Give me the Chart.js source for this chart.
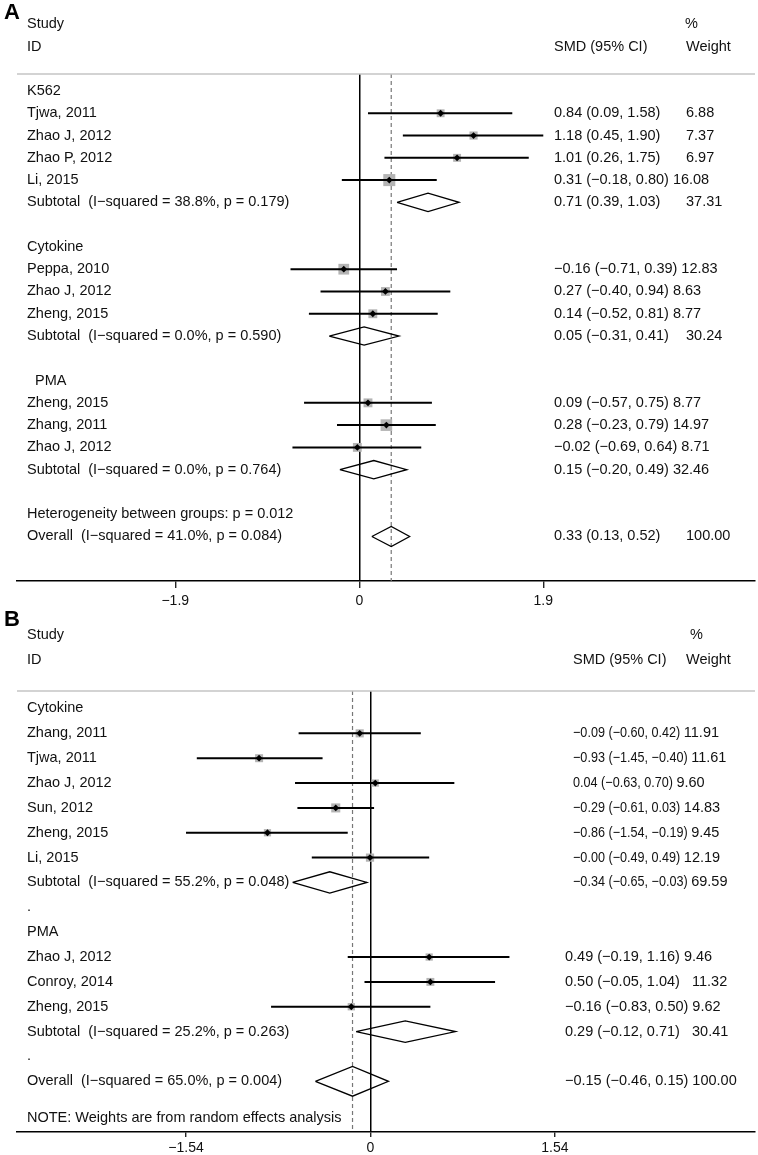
<!DOCTYPE html>
<html>
<head>
<meta charset="utf-8">
<script src="https://cdn.jsdelivr.net/npm/chart.js@4"></script>
<style>
  html, body { margin: 0; padding: 0; background: #fff; }
  canvas { display: block; }
</style>
</head>
<body>
<canvas id="forestA" width="758" height="610"></canvas>
<canvas id="forestB" width="758" height="545"></canvas>
<script>
// ---- panel A ----
const labelsA = [
  "K562", "Tjwa, 2011", "Zhao J, 2012", "Zhao P, 2012", "Li, 2015",
  "Subtotal  (I\u2212squared = 38.8%, p = 0.179)", "",
  "Cytokine", "Peppa, 2010", "Zhao J, 2012", "Zheng, 2015",
  "Subtotal  (I\u2212squared = 0.0%, p = 0.590)", "",
  "  PMA", "Zheng, 2015", "Zhang, 2011", "Zhao J, 2012",
  "Subtotal  (I\u2212squared = 0.0%, p = 0.764)", "",
  "Heterogeneity between groups: p = 0.012",
  "Overall  (I\u2212squared = 41.0%, p = 0.084)"
];
const labelRowsA = labelsA.map((l, i) => i + 1);
const studyRowsA = [2, 3, 4, 5, 9, 10, 11, 15, 16, 17];
const studyEstA = [0.84, 1.18, 1.01, 0.31, -0.16, 0.27, 0.14, 0.09, 0.28, -0.02];
const studyLoA = [0.09, 0.45, 0.26, -0.18, -0.71, -0.40, -0.52, -0.57, -0.23, -0.69];
const studyHiA = [1.58, 1.90, 1.75, 0.80, 0.39, 0.94, 0.81, 0.75, 0.79, 0.64];
const studyWtA = [6.88, 7.37, 6.97, 16.08, 12.83, 8.63, 8.77, 8.77, 14.97, 8.71];
const poolRowsA = [6, 12, 18, 21];
const poolEstA = [0.71, 0.05, 0.15, 0.33];
const poolLoA = [0.39, -0.31, -0.20, 0.13];
const poolHiA = [1.03, 0.41, 0.49, 0.52];
const poolWtA = [37.31, 30.24, 32.46, 100.00];
const ticksA = [-1.9, 0, 1.9];

// ---- panel B ----
const labelsB = [
  "Cytokine", "Zhang, 2011", "Tjwa, 2011", "Zhao J, 2012", "Sun, 2012",
  "Zheng, 2015", "Li, 2015",
  "Subtotal  (I\u2212squared = 55.2%, p = 0.048)", ".",
  "PMA", "Zhao J, 2012", "Conroy, 2014", "Zheng, 2015",
  "Subtotal  (I\u2212squared = 25.2%, p = 0.263)", ".",
  "Overall  (I\u2212squared = 65.0%, p = 0.004)",
  "NOTE: Weights are from random effects analysis"
];
const labelRowsB = [1, 2, 3, 4, 5, 6, 7, 8, 9, 10, 11, 12, 13, 14, 15, 16, 17.48];
const studyRowsB = [2, 3, 4, 5, 6, 7, 11, 12, 13];
const studyEstB = [-0.09, -0.93, 0.04, -0.29, -0.86, -0.004, 0.49, 0.50, -0.16];
const studyLoB = [-0.60, -1.45, -0.63, -0.61, -1.54, -0.49, -0.19, -0.05, -0.83];
const studyHiB = [0.42, -0.40, 0.70, 0.03, -0.19, 0.49, 1.16, 1.04, 0.50];
const studyWtB = [11.91, 11.61, 9.60, 14.83, 9.45, 12.19, 9.46, 11.32, 9.62];
const poolRowsB = [8, 14, 16];
const poolEstB = [-0.34, 0.29, -0.15];
const poolLoB = [-0.65, -0.12, -0.46];
const poolHiB = [-0.03, 0.71, 0.15];
const poolWtB = [69.59, 30.41, 100.00];
const ticksB = [-1.54, 0, 1.54];

const fontFamily = '"Liberation Sans", Arial, Helvetica, sans-serif';
Chart.defaults.font.family = fontFamily;
Chart.defaults.font.size = 14;
Chart.defaults.color = "#111";

function fmt(v) {
  return v.toFixed(2).replace("-", "\u2212");
}

function forest(id, d, s) {
  const gap = { x: NaN, y: NaN };
  const ciPts = [];
  d.sRows.forEach((r, i) => {
    ciPts.push({ x: d.sLo[i], y: r }, { x: d.sHi[i], y: r }, gap);
  });
  const estPts = d.sRows.map((r, i) => ({ x: d.sEst[i], y: r }));
  const boxR = d.sWt.map(w => s.boxK * Math.sqrt(w) / Math.SQRT2);
  const diaPts = [];
  d.pRows.forEach((r, i) => {
    const h = i === d.pRows.length - 1 ? s.overallH : s.subH;
    diaPts.push(
      { x: d.pLo[i], y: r }, { x: d.pEst[i], y: r - h },
      { x: d.pHi[i], y: r }, { x: d.pEst[i], y: r + h },
      { x: d.pLo[i], y: r }, gap
    );
  });
  const overall = d.pEst[d.pEst.length - 1];
  const refPts = [{ x: overall, y: s.ymin }, { x: overall, y: s.ymax }];

  const tablePlugin = {
    id: "table" + id,
    afterDraw(chart) {
      const ctx = chart.ctx;
      const a = chart.chartArea;
      const y = chart.scales.y;
      ctx.save();
      ctx.strokeStyle = "#c4c4c4";
      ctx.lineWidth = 1.5;
      ctx.beginPath();
      ctx.moveTo(a.left, a.top);
      ctx.lineTo(a.right, a.top);
      ctx.stroke();

      ctx.fillStyle = "#000";
      ctx.textBaseline = "middle";
      ctx.textAlign = "left";
      ctx.font = "bold 22px " + fontFamily;
      ctx.fillText(s.letter, 4, s.letterY);

      ctx.fillStyle = "#111";
      ctx.font = "14.5px " + fontFamily;
      ctx.fillText("Study", 27, s.head1);
      ctx.fillText("ID", 27, s.head2);
      ctx.fillText("%", s.hdrPct, s.head1);
      ctx.fillText("SMD (95% CI)", s.hdrCI, s.head2);
      ctx.fillText("Weight", s.hdrW, s.head2);

      d.labels.forEach((t, i) => {
        if (t) ctx.fillText(t, 27, y.getPixelForValue(d.labelRows[i]));
      });

      const space = ctx.measureText(" ").width;
      const row = (r, est, lo, hi, w, aligned) => {
        const py = y.getPixelForValue(r);
        const ci = fmt(est) + " (" + fmt(lo) + ", " + fmt(hi) + ")";
        const upper = s.upperRows && r <= s.upperRows;
        const x0 = upper ? s.upperCI : s.ciCol;
        const squeeze = upper ? s.upperSqueeze : 1;
        const cw = ctx.measureText(ci).width * squeeze;
        ctx.fillText(ci, x0, py, cw);
        const wx = aligned ? s.wCol : x0 + cw + space * squeeze;
        ctx.fillText(w.toFixed(2), wx, py);
      };
      d.sRows.forEach((r, i) => row(r, d.sEst[i], d.sLo[i], d.sHi[i], d.sWt[i], s.sAlign[i]));
      d.pRows.forEach((r, i) => row(r, d.pEst[i], d.pLo[i], d.pHi[i], d.pWt[i], s.pAlign[i]));
      ctx.restore();
    }
  };

  return new Chart(document.getElementById(id), {
    type: "scatter",
    data: {
      datasets: [
        {
          label: "overall",
          data: refPts,
          showLine: true,
          borderColor: "#777",
          borderWidth: 1.2,
          borderDash: [4, 3],
          pointRadius: 0,
          order: 6
        },
        {
          label: "weight",
          data: estPts,
          pointStyle: "rect",
          pointRadius: boxR,
          backgroundColor: "#b4b4b4",
          borderWidth: 0,
          order: 5
        },
        {
          label: "ci",
          data: ciPts,
          showLine: true,
          spanGaps: false,
          borderColor: "#000",
          borderWidth: 2,
          pointRadius: 0,
          order: 4
        },
        {
          label: "pooled",
          data: diaPts,
          showLine: true,
          spanGaps: false,
          borderColor: "#000",
          borderWidth: 1.3,
          pointRadius: 0,
          order: 3
        },
        {
          label: "estimate",
          data: estPts,
          pointStyle: "rectRot",
          pointRadius: 3.4,
          backgroundColor: "#000",
          borderWidth: 0,
          order: 2
        }
      ]
    },
    options: {
      responsive: false,
      animation: false,
      events: [],
      layout: { autoPadding: false, padding: { top: s.top, left: 17, right: 3, bottom: 0 } },
      plugins: { legend: { display: false }, tooltip: { enabled: false } },
      scales: {
        x: {
          type: "linear",
          min: s.xmin,
          max: s.xmax,
          afterBuildTicks: sc => { sc.ticks = d.ticks.map(v => ({ value: v })); },
          afterFit: sc => { sc.height = s.axisH; },
          ticks: {
            autoSkip: false,
            maxRotation: 0,
            padding: s.tickPad,
            color: "#111",
            font: { size: 14 },
            callback: v => String(v).replace("-", "\u2212")
          },
          grid: {
            drawOnChartArea: true,
            color: c => (c.tick && c.tick.value === 0 ? "#000" : "rgba(0,0,0,0)"),
            lineWidth: 1.5,
            tickColor: "#000",
            tickLength: s.tickLen,
            tickWidth: 1.2
          },
          border: { display: true, color: "#000", width: 1.5 }
        },
        y: {
          type: "linear",
          reverse: true,
          min: s.ymin,
          max: s.ymax,
          display: false
        }
      }
    },
    plugins: [tablePlugin]
  });
}

forest("forestA", {
  labels: labelsA, labelRows: labelRowsA,
  sRows: studyRowsA, sEst: studyEstA, sLo: studyLoA, sHi: studyHiA, sWt: studyWtA,
  pRows: poolRowsA, pEst: poolEstA, pLo: poolLoA, pHi: poolHiA, pWt: poolWtA,
  ticks: ticksA
}, {
  letter: "A", letterY: 13, head1: 24, head2: 47,
  hdrPct: 685, hdrCI: 554, hdrW: 686,
  ciCol: 554, wCol: 686,
  sAlign: [true, true, true, false, false, false, false, false, false, false],
  pAlign: [true, true, false, true],
  top: 74, axisH: 29, tickLen: 7, tickPad: 5,
  xmin: -3.534, xmax: 4.086, ymin: 0.237, ymax: 22.998,
  boxK: 3.0, subH: 0.41, overallH: 0.45
});

forest("forestB", {
  labels: labelsB, labelRows: labelRowsB,
  sRows: studyRowsB, sEst: studyEstB, sLo: studyLoB, sHi: studyHiB, sWt: studyWtB,
  pRows: poolRowsB, pEst: poolEstB, pLo: poolLoB, pHi: poolHiB, pWt: poolWtB,
  ticks: ticksB
}, {
  letter: "B", letterY: 10, head1: 25, head2: 50,
  hdrPct: 690, hdrCI: 573, hdrW: 686,
  ciCol: 565, wCol: 692,
  upperRows: 8, upperCI: 573, upperSqueeze: 0.87,
  sAlign: [false, false, false, false, false, false, false, true, false],
  pAlign: [false, true, false],
  top: 81, axisH: 23, tickLen: 5, tickPad: 3,
  xmin: -2.951, xmax: 3.210, ymin: 0.296, ymax: 18.04,
  boxK: 2.35, subH: 0.43, overallH: 0.6
});
</script>
</body>
</html>
